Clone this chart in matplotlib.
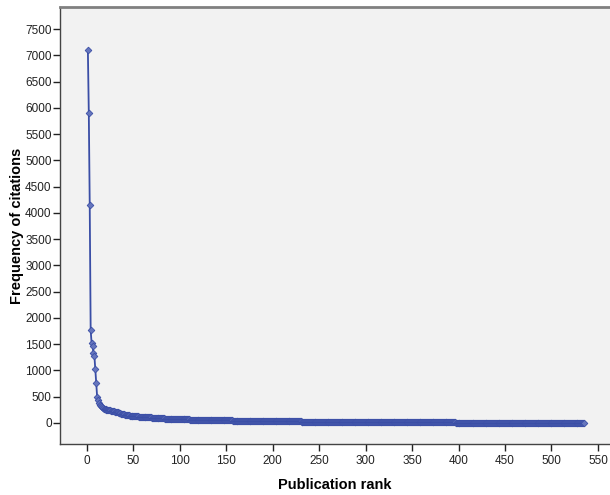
import numpy as np
import matplotlib
matplotlib.use("Agg")
import matplotlib.pyplot as plt

# citations of the most cited publications, read one by one
head_citations = [7100, 5900, 4150, 1770, 1520, 1470, 1330, 1280, 1030, 760,
                  490, 430, 390, 350, 320, 300, 285, 275, 268, 260,
                  255, 250, 246, 242, 238, 234, 230, 226, 222, 218,
                  212, 206, 200, 195, 190, 185, 180, 175, 170, 165,
                  160, 156, 152, 148, 144]

# long tail: citation value and how many publications share it
tail_values = [140, 135, 130, 125, 120, 115, 110, 105, 100, 95, 90, 85, 80, 75,
               70, 65, 60, 55, 50,
               48, 46, 44, 42, 40, 38, 36, 34, 32, 30, 28, 26, 24, 22, 20,
               19, 18, 17, 16, 15, 14, 13, 12, 11, 10, 9, 8, 7, 6, 5, 4, 3, 2, 1]
tail_counts = [2, 2, 3, 3, 3, 3, 4, 4, 4, 5, 5, 6, 6, 7,
               8, 8, 10, 10, 12,
               6, 6, 7, 7, 8, 8, 9, 9, 10, 10, 11, 11, 12, 13, 14,
               8, 9, 9, 10, 10, 11, 11, 12, 12, 13, 13, 14, 14, 15, 15, 16, 16, 18, 18]

y_ticks = list(range(0, 7501, 500))
x_ticks = list(range(0, 551, 50))

citations = np.concatenate([head_citations, np.repeat(tail_values, tail_counts)])
rank = np.arange(1, len(citations) + 1)

plt.rcParams['font.family'] = ['Liberation Sans', 'DejaVu Sans']

fig = plt.figure(figsize=(6.1, 4.95), dpi=100)
ax = fig.add_axes([60 / 610, 51 / 495, 550 / 610, 437 / 495])
ax.set_facecolor('#f2f2f2')

ax.plot(rank, citations, color='#3a4ea6', linewidth=1.3,
        marker='D', markersize=3.4, markerfacecolor='#6676bd',
        markeredgecolor='#3a4ea6', markeredgewidth=0.6, snap=False)

ax.set_xlim(-29, 563)
ax.set_ylim(-400, 7920)
ax.set_xticks(x_ticks)
ax.set_yticks(y_ticks)
ax.tick_params(direction='out', length=5, width=1, colors='#222222',
               labelsize=8.5)
ax.tick_params(axis='x', pad=3)
ax.tick_params(axis='y', pad=1)

for side in ['left', 'bottom']:
    ax.spines[side].set_color('#444444')
    ax.spines[side].set_linewidth(1.0)
ax.spines['top'].set_color('#808080')
ax.spines['top'].set_linewidth(2.0)
ax.spines['right'].set_visible(False)

ax.set_xlabel('Publication rank', fontsize=10.5, fontweight='bold', labelpad=8)
ax.set_ylabel('Frequency of citations', fontsize=10.5, fontweight='bold', labelpad=0.5)

fig.savefig('out.png', dpi=100)
